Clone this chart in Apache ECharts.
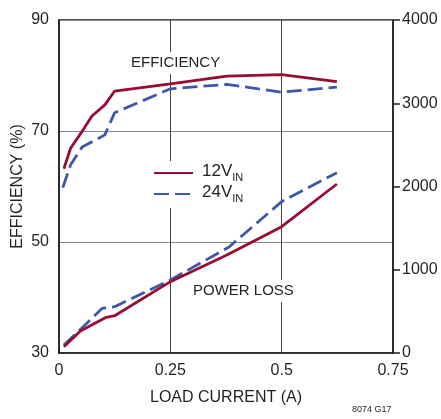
<!DOCTYPE html>
<html>
<head>
<meta charset="utf-8">
<script src="https://cdn.jsdelivr.net/npm/echarts@6/dist/echarts.min.js"></script>
<style>
html,body{margin:0;padding:0;background:#fff;}
#chart{width:441px;height:419px;}
</style>
</head>
<body>
<div id="chart"></div>
<script>
// ---- data ----
var seriesNames = ['12V', '24V'];
var xTickLabels = ['0', '0.25', '0.5', '0.75'];
var effTickLabels = ['30', '50', '70', '90'];
var lossTickLabels = ['0', '1000', '2000', '3000', '4000'];

var eff12Current = [0.011, 0.026, 0.05, 0.074, 0.103, 0.125, 0.25, 0.377, 0.5, 0.624];
var eff12Value   = [63.2, 66.9, 69.7, 72.7, 74.7, 77.2, 78.5, 79.9, 80.15, 78.9];

var eff24Current = [0.0085, 0.026, 0.052, 0.103, 0.125, 0.25, 0.377, 0.5, 0.624];
var eff24Value   = [59.8, 63.9, 67.1, 69.3, 73.3, 77.6, 78.4, 77.0, 77.9];

var loss12Current = [0.011, 0.048, 0.104, 0.125, 0.25, 0.377, 0.5, 0.624];
var loss12Value   = [76, 264, 424, 448, 857, 1177, 1517, 2030];

var loss24Current = [0.011, 0.052, 0.097, 0.125, 0.25, 0.381, 0.5, 0.624];
var loss24Value   = [96, 304, 537, 556, 877, 1270, 1818, 2166];

function pairs(xs, ys) { return xs.map(function (x, i) { return [x, ys[i]]; }); }

var FONT = '"Liberation Sans", Arial, sans-serif';
var RED = '#990b33';
var BLUE = '#3d58aa';
var TXT = '#231f20';

var chart = echarts.init(document.getElementById('chart'), null, {renderer: 'canvas'});
var option = {
  animation: false,
  backgroundColor: '#fff',
  textStyle: {fontFamily: FONT},
  grid: {left: 59, right: 48, top: 20, bottom: 66, show: true, borderColor: '#231f20', borderWidth: 1.5,
         containLabel: false, outerBoundsMode: 'none'},
  legend: {
    data: seriesNames,
    orient: 'vertical',
    left: 149, top: 161,
    itemWidth: 39, itemHeight: 14, itemGap: 1,
    padding: [2, 6, 4, 4],
    backgroundColor: '#fff',
    itemStyle: {opacity: 0},
    formatter: function (name) { return '{v|' + name + '}{s|IN}'; },
    textStyle: {
      fontFamily: FONT, color: TXT,
      rich: {
        v: {fontSize: 17, fontFamily: FONT, color: TXT, lineHeight: 16, padding: [0, 0, 3, 4]},
        s: {fontSize: 11, fontFamily: FONT, color: TXT, lineHeight: 10, padding: [9, 0, 0, 0]}
      }
    }
  },
  xAxis: {
    type: 'value', min: 0, max: 0.75, interval: 0.25,
    name: 'LOAD CURRENT (A)', nameLocation: 'middle', nameGap: 37,
    nameTextStyle: {fontSize: 16, color: TXT, fontFamily: FONT},
    axisLine: {show: true, lineStyle: {color: '#231f20', width: 1.5}},
    axisTick: {show: false},
    axisLabel: {fontSize: 16, color: TXT, margin: 10, fontFamily: FONT,
      formatter: function (v) { return xTickLabels[Math.round(v / 0.25)]; }},
    splitLine: {show: true, lineStyle: {color: '#444', width: 1}}
  },
  yAxis: [{
    type: 'value', min: 30, max: 90, interval: 20,
    name: 'EFFICIENCY (%)', nameLocation: 'middle', nameGap: 33, nameRotate: 90, nameMoveOverlap: false,
    nameTextStyle: {fontSize: 16, color: TXT, fontFamily: FONT},
    axisLine: {show: true, lineStyle: {color: '#231f20', width: 1.5}},
    axisTick: {show: false},
    axisLabel: {fontSize: 16, color: TXT, margin: 10, fontFamily: FONT,
      formatter: function (v) { return effTickLabels[Math.round((v - 30) / 20)]; }},
    splitLine: {show: true, lineStyle: {color: '#888', width: 1}}
  }, {
    type: 'value', min: 0, max: 4000, interval: 1000, position: 'right',
    axisLine: {show: true, lineStyle: {color: '#231f20', width: 1.5}},
    axisTick: {show: true, length: 7, lineStyle: {color: '#231f20', width: 1.5}},
    axisLabel: {fontSize: 16, color: TXT, margin: 9, fontFamily: FONT,
      formatter: function (v) { return lossTickLabels[Math.round(v / 1000)]; }},
    splitLine: {show: false}
  }],
  series: [
    {name: '12V', type: 'line', yAxisIndex: 0, symbol: 'none', data: pairs(eff12Current, eff12Value),
     lineStyle: {color: RED, width: 2.8}, itemStyle: {color: RED}, z: 5},
    {name: '24V', type: 'line', yAxisIndex: 0, symbol: 'none', data: pairs(eff24Current, eff24Value),
     lineStyle: {color: BLUE, width: 2.8, type: [15, 6]}, itemStyle: {color: BLUE}, z: 4},
    {name: '12V', type: 'line', yAxisIndex: 1, symbol: 'none', data: pairs(loss12Current, loss12Value),
     lineStyle: {color: RED, width: 2.8}, itemStyle: {color: RED}, z: 5},
    {name: '24V', type: 'line', yAxisIndex: 1, symbol: 'none', data: pairs(loss24Current, loss24Value),
     lineStyle: {color: BLUE, width: 2.8, type: [15, 6]}, itemStyle: {color: BLUE}, z: 4}
  ],
  graphic: [
    {type: 'text', left: 128, top: 52, z: 10,
     style: {text: 'EFFICIENCY', font: '15px ' + FONT, fill: TXT, backgroundColor: '#fff', padding: [3, 3, 4, 3]}},
    {type: 'text', left: 190, top: 280, z: 10,
     style: {text: 'POWER LOSS', font: '15px ' + FONT, fill: TXT, backgroundColor: '#fff', padding: [3, 3, 4, 3]}},
    {type: 'text', left: 352, top: 405,
     style: {text: '8074 G17', font: '9px ' + FONT, fill: TXT}}
  ]
};
chart.setOption(option);
</script>
</body>
</html>
